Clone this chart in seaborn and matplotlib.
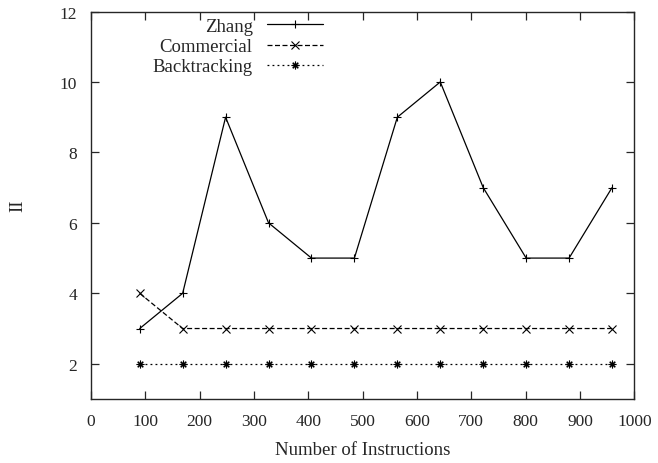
import pandas as pd
import matplotlib.pyplot as plt
import seaborn as sns

instructions = [90, 169, 248, 327, 406, 485, 564, 643, 722, 801, 880, 959]
zhang = [3, 4, 9, 6, 5, 5, 9, 10, 7, 5, 5, 7]
commercial = [4, 3, 3, 3, 3, 3, 3, 3, 3, 3, 3, 3]
backtracking = [2, 2, 2, 2, 2, 2, 2, 2, 2, 2, 2, 2]

df = pd.DataFrame({
    'Instructions': instructions * 3,
    'II': zhang + commercial + backtracking,
    'Method': ['Zhang'] * 12 + ['Commercial'] * 12 + ['Backtracking'] * 12,
})

sns.set_style('ticks')
plt.rcParams['font.family'] = ['Liberation Serif', 'DejaVu Serif']
fs = 13.5

fig = plt.figure(figsize=(6.58, 4.64), dpi=100)
ax = fig.add_axes([0.138, 0.138, 0.826, 0.835])

sns.lineplot(data=df, x='Instructions', y='II', hue='Method', style='Method',
             palette=['black'] * 3,
             dashes={'Zhang': '', 'Commercial': (4, 2), 'Backtracking': (1.5, 2.5)},
             markers={'Zhang': '+', 'Commercial': 'x', 'Backtracking': (8, 2, 0)},
             markersize=5.5, markeredgewidth=0.8, markeredgecolor='black',
             linewidth=0.9, ax=ax)

ax.set_xlim(0, 1000)
ax.set_ylim(1, 12)
ax.set_xticks(range(0, 1001, 100))
ax.set_yticks([2, 4, 6, 8, 10, 12])
ax.tick_params(direction='in', top=True, right=True, length=6, width=0.9,
               labelsize=12.5, pad=10)
for s in ax.spines.values():
    s.set_linewidth(1.0)
ax.set_xlabel('Number of Instructions', fontsize=fs, labelpad=9)
ax.set_ylabel('II', fontsize=fs, labelpad=24)

ax.legend(loc='upper right', bbox_to_anchor=(0.427, 0.984), markerfirst=False,
          frameon=False, fontsize=fs, handlelength=3.0, labelspacing=0.17,
          borderaxespad=0, borderpad=0, handletextpad=0.75)

fig.savefig('out.png', dpi=100)
